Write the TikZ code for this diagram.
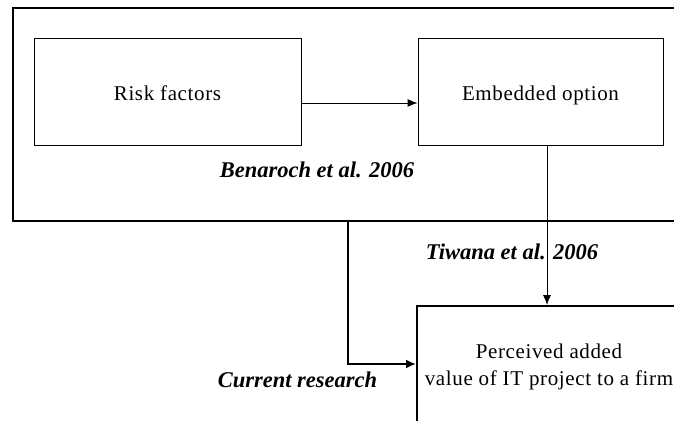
\documentclass[tikz,border=0pt]{standalone}
\usepackage{fontspec}
\setmainfont{Liberation Serif}
\newfontfamily\spacedserif[LetterSpace=3]{Liberation Serif}
\usetikzlibrary{arrows.meta}
\tikzset{
  box/.style={draw=black, line width=0.9pt, inner sep=0pt},
  bigbox/.style={draw=black, line width=2pt, inner sep=0pt},
  txt/.style={inner sep=0pt, font=\spacedserif\fontsize{21}{27}\selectfont},
  boxtxt/.style={txt, text height=19pt, text depth=2pt},
  cite/.style={inner sep=0pt, font=\fontsize{22.5}{26}\selectfont\bfseries\itshape},
  thin/.style={line width=0.9pt, -{Latex[length=10pt,width=8pt]}},
  thick/.style={line width=2pt, -{Latex[length=10pt,width=9pt]}}
}
\begin{document}
\begin{tikzpicture}[x=1pt,y=-1pt]
\useasboundingbox (0,0) rectangle (674,420);
\fill[white] (0,0) rectangle (674,420);
\clip (0,0) rectangle (674,420);
% outer box
\node[bigbox, minimum width=677pt, minimum height=213pt] (outer) at (351.5,114.5) {};
% inner boxes
\node[box, minimum width=267pt, minimum height=107pt, boxtxt] (risk) at (167.5,91.5) {Risk factors};
\node[box, minimum width=245pt, minimum height=107pt, boxtxt] (emb) at (540.5,91.5) {Embedded option};
\node[cite] (ben) at (317,170) {Benaroch et al. 2006};
% perceived box
\node[bigbox, minimum width=260pt, minimum height=160pt] (perc) at (547,386) {};
\node[txt, align=center] (perctext) at (549,367) {Perceived added\\value of IT project to a firm};
\node[cite] (tiw) at (512,252) {Tiwana et al. 2006};
\node[cite] (cur) at (297.5,380) {Current research};
% connectors
\draw[thin] ([yshift=-11.5pt]risk.east) -- ([yshift=-11.5pt]emb.west);
\draw[thin] (emb.south -| perc.north) -- (perc.north);
\coordinate (crstart) at (348,221);
\coordinate (crrow) at (0,364);
\draw[thick] (crstart) |- (perc.west |- crrow);
\end{tikzpicture}
\end{document}
